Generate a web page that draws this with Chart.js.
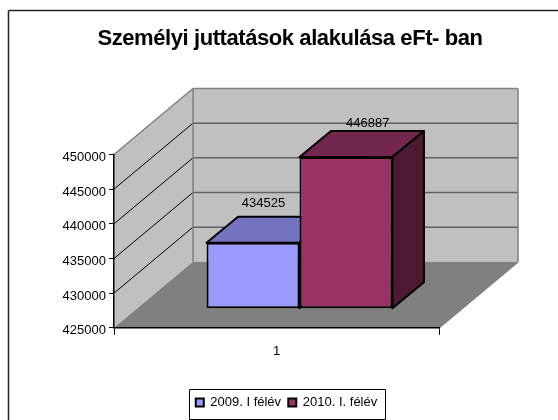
<!DOCTYPE html>
<html>
<head>
<meta charset="utf-8">
<style>
  html, body { margin: 0; padding: 0; background: #fff; }
  canvas { display: block; }
</style>
<script src="https://cdn.jsdelivr.net/npm/chart.js@4"></script>
</head>
<body>
<canvas id="chart" width="558" height="420"></canvas>
<script>
var titleText = 'Személyi juttatások alakulása eFt- ban';
var categories = ['1'];
var seriesNames = ['2009. I félév', '2010. I. félév'];
var values2009 = [434525];
var values2010 = [446887];
var yMin = 425000;
var yMax = 450000;
var yStep = 5000;

// 3d look, Chart.js has no 3d bars so the faces are added by the plugin below
var wallDx = 79, wallDy = 66;      // depth of the whole floor
var barDx = 23, barDy = 19;        // front of the bars, measured from the axis plane
var faceDx = 31.5, faceDy = 26;    // depth of a bar
var faceColors = [['#7373BF', '#4D4D80'], ['#732650', '#4D1933']];
var labelOffsets = [[10.5, -39], [21.7, -34]];

function poly(ctx, pts, fill, stroke, lw) {
    ctx.beginPath();
    ctx.moveTo(pts[0][0], pts[0][1]);
    for (var i = 1; i < pts.length; i++) ctx.lineTo(pts[i][0], pts[i][1]);
    ctx.closePath();
    if (fill) { ctx.fillStyle = fill; ctx.fill(); }
    if (stroke) { ctx.strokeStyle = stroke; ctx.lineWidth = lw; ctx.lineJoin = 'round'; ctx.stroke(); }
}

function line(ctx, x1, y1, x2, y2, color, lw) {
    ctx.beginPath();
    ctx.moveTo(x1, y1);
    ctx.lineTo(x2, y2);
    ctx.strokeStyle = color;
    ctx.lineWidth = lw;
    ctx.stroke();
}

var box3d = {
    id: 'box3d',
    afterLayout: function(chart) {
        // title and legend are not centred on the plot in the original
        chart.titleBlock.left = 22;
        chart.titleBlock.right = 558;
        chart.legend.left = 15;
        chart.legend.right = 558;
        if (!chart.titleBlock.wrapped) {
            var t = chart.titleBlock, d = t.draw;
            t.draw = function() {
                chart.ctx.letterSpacing = '-0.42px';
                d.call(t);
                chart.ctx.letterSpacing = '0px';
            };
            t.wrapped = true;
        }
    },
    beforeDraw: function(chart) {
        var ctx = chart.ctx, a = chart.chartArea, y = chart.scales.y;
        ctx.save();
        // outer frame, only top and left are in the picture
        line(ctx, 8.5, 10.5, 558, 10.5, '#222', 1.5);
        line(ctx, 8.5, 10.5, 8.5, 420, '#222', 1.5);

        poly(ctx, [[a.left + wallDx, a.top - wallDy], [a.right + wallDx, a.top - wallDy],
                   [a.right + wallDx, a.bottom - wallDy], [a.left + wallDx, a.bottom - wallDy]], '#C0C0C0');
        poly(ctx, [[a.left, a.top], [a.left + wallDx, a.top - wallDy],
                   [a.left + wallDx, a.bottom - wallDy], [a.left, a.bottom]], '#C0C0C0');
        poly(ctx, [[a.left, a.bottom], [a.left + wallDx, a.bottom - wallDy],
                   [a.right + wallDx, a.bottom - wallDy], [a.right, a.bottom]], '#808080');

        y.ticks.forEach(function(tick) {
            if (tick.value === yMin || tick.value === yMax) return;
            var py = y.getPixelForValue(tick.value);
            line(ctx, a.left, py, a.left + wallDx, py - wallDy, '#000', 1);
            line(ctx, a.left + wallDx, py - wallDy, a.right + wallDx, py - wallDy, '#606060', 1.5);
        });

        line(ctx, a.left, a.top, a.left + wallDx, a.top - wallDy, '#808080', 1.5);
        line(ctx, a.left + wallDx, a.top - wallDy, a.right + wallDx, a.top - wallDy, '#808080', 1.5);
        line(ctx, a.right + wallDx, a.top - wallDy, a.right + wallDx, a.bottom - wallDy, '#808080', 1.5);
        line(ctx, a.left + wallDx, a.top - wallDy, a.left + wallDx, a.bottom - wallDy, '#808080', 1.5);
        line(ctx, a.right, a.bottom, a.right + wallDx, a.bottom - wallDy, '#808080', 1.5);
        ctx.restore();
    },
    beforeDatasetsDraw: function(chart) {
        // top and side faces first, blue before burgundy, the fronts then cover the overlap
        var ctx = chart.ctx;
        chart.data.datasets.forEach(function(ds, i) {
            chart.getDatasetMeta(i).data.forEach(function(bar) {
                var l = bar.x - bar.width / 2 + barDx, r = bar.x + bar.width / 2 + barDx;
                var t = bar.y - barDy, b = bar.base - barDy;
                poly(ctx, [[l, t], [l + faceDx, t - faceDy], [r + faceDx, t - faceDy], [r, t]], faceColors[i][0], '#000', 2);
                poly(ctx, [[r, t], [r + faceDx, t - faceDy], [r + faceDx, b - faceDy], [r, b]], faceColors[i][1], '#000', 2);
            });
        });
    },
    beforeDatasetDraw: function(chart) {
        chart.ctx.save();
        chart.ctx.translate(barDx, -barDy);
    },
    afterDatasetDraw: function(chart) {
        chart.ctx.restore();
    },
    afterDatasetsDraw: function(chart) {
        var ctx = chart.ctx;
        ctx.save();
        ctx.font = '13px "Liberation Sans"';
        ctx.fillStyle = '#000';
        ctx.textAlign = 'center';
        ctx.textBaseline = 'middle';
        chart.data.datasets.forEach(function(ds, i) {
            chart.getDatasetMeta(i).data.forEach(function(bar, j) {
                ctx.fillText(String(ds.data[j]), bar.x + barDx + labelOffsets[i][0], bar.y - barDy + labelOffsets[i][1]);
            });
        });
        ctx.restore();
    },
    afterDraw: function(chart) {
        // frame round the legend
        var ctx = chart.ctx, boxes = chart.legend.legendHitBoxes;
        var first = boxes[0], last = boxes[boxes.length - 1];
        ctx.save();
        ctx.strokeStyle = '#000';
        ctx.lineWidth = 1;
        ctx.strokeRect(Math.round(first.left - 7) + 0.5, Math.round(chart.legend.top) + 0.5,
            Math.round(last.left + last.width - first.left + 15), 30);
        ctx.restore();
    }
};

var ctx = document.getElementById('chart').getContext('2d');

var chart = new Chart(ctx, {
    type: 'bar',
    data: {
        labels: categories,
        datasets: [
            { label: seriesNames[0], data: values2009, base: yMin, backgroundColor: '#9999FF', borderColor: '#000', borderWidth: 2, borderSkipped: false, clip: false },
            { label: seriesNames[1], data: values2010, base: yMin, backgroundColor: '#993366', borderColor: '#000', borderWidth: 2, borderSkipped: false, clip: false }
        ]
    },
    options: {
        responsive: false,
        animation: false,
        layout: { padding: { right: 119, bottom: 1 } },
        datasets: { bar: { barPercentage: 1, categoryPercentage: 0.572 } },
        scales: {
            x: {
                grid: { drawOnChartArea: false, color: '#000', tickLength: 7, offset: true },
                border: { color: '#000', width: 1.5 },
                ticks: { color: '#000', padding: 9, font: { family: '"Liberation Sans"', size: 13 } },
                afterFit: function(scale) { scale.height = 61; }
            },
            y: {
                min: yMin,
                max: yMax,
                grid: { drawOnChartArea: false, color: '#000', tickLength: 5 },
                border: { color: '#000', width: 1.5 },
                ticks: { stepSize: yStep, color: '#000', padding: 3, labelOffset: 3, font: { family: '"Liberation Sans"', size: 13 },
                    callback: function(v) { return String(v); } },
                afterFit: function(scale) { scale.width = 114; }
            }
        },
        plugins: {
            tooltip: { enabled: false },
            title: {
                display: true,
                text: titleText,
                color: '#000',
                font: { family: '"Liberation Sans"', size: 22, weight: 'bold' },
                padding: { top: 26, bottom: 102.1 }
            },
            legend: {
                position: 'bottom',
                labels: {
                    color: '#000',
                    boxWidth: 8,
                    boxHeight: 8,
                    padding: 7.2,
                    font: { family: '"Liberation Sans"', size: 13 }
                }
            }
        }
    },
    plugins: [box3d]
});
</script>
</body>
</html>
